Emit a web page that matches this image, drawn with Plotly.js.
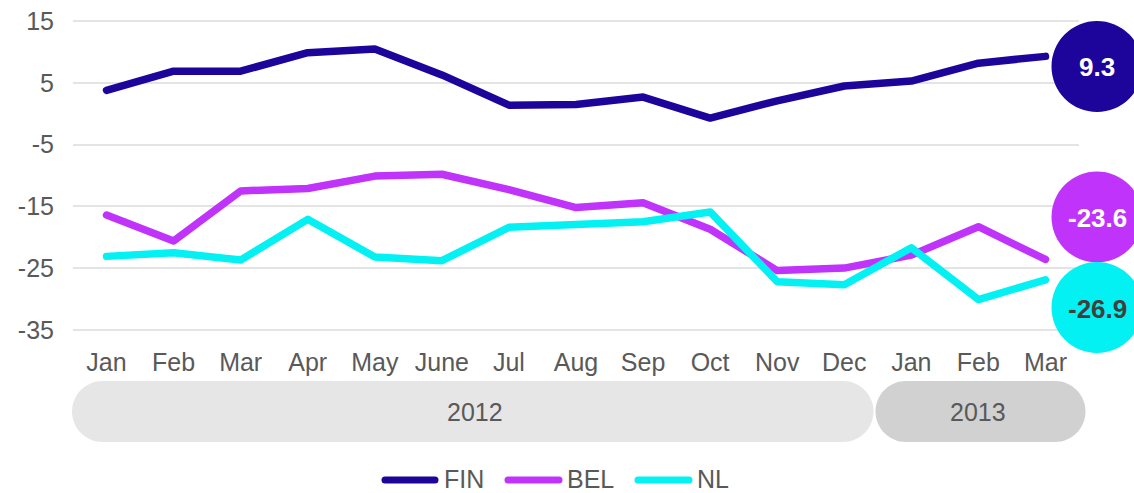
<!DOCTYPE html>
<html>
<head>
<meta charset="utf-8">
<script src="https://cdn.plot.ly/plotly-3.0.1.min.js"></script>
<style>
  html, body { margin: 0; padding: 0; background: #ffffff; }
  #chart { width: 1134px; height: 493px; }
  .scatterlayer .js-line { stroke-linecap: round; stroke-linejoin: round; }
</style>
</head>
<body>
<div id="chart"></div>
<script>
// ---- data ----
const months = ["Jan", "Feb", "Mar", "Apr", "May", "June", "Jul", "Aug", "Sep", "Oct", "Nov", "Dec", "Jan", "Feb", "Mar"];
const years = ["2012", "2013"];
const yearStartIdx = [0, 12];
const yearEndIdx = [11, 14];
const seriesNames = ["FIN", "BEL", "NL"];
const finValues = [3.8, 6.9, 6.9, 9.9, 10.5, 6.3, 1.4, 1.5, 2.7, -0.7, 2.1, 4.5, 5.3, 8.2, 9.3];
const belValues = [-16.4, -20.6, -12.5, -12.1, -10.1, -9.8, -12.3, -15.2, -14.4, -18.7, -25.4, -25.0, -22.9, -18.3, -23.6];
const nlValues = [-23.1, -22.5, -23.7, -17.1, -23.2, -23.8, -18.4, -18.0, -17.5, -15.9, -27.2, -27.7, -21.7, -30.1, -26.9];
const yTicks = [-35, -25, -15, -5, 5, 15];

// ---- styles / layout constants ----
const colors = ["#1d049b", "#bf33fb", "#03f1f2"];
const bubbleText = ["#ffffff", "#ffffff", "#3f3f3f"];
const textGrey = "#595959";
const FONT = "Liberation Sans, Arial, Helvetica, sans-serif";
const L = 73, R = 55, T = 15, B = 157, WIDTH = 1134, HEIGHT = 493;
const PW = WIDTH - L - R, PH = HEIGHT - T - B;
const px = X => (X - L) / PW;
const py = Y => (HEIGHT - B - Y) / PH;

const xIdx = months.map((m, i) => i);
const allSeries = [finValues, belValues, nlValues];

const traces = allSeries.map((vals, k) => ({
  type: "scatter",
  mode: "lines",
  x: xIdx,
  y: vals,
  name: seriesNames[k],
  line: { color: colors[k], width: 7.5 },
  showlegend: false,
  hoverinfo: "skip"
}));

// pill shaped band (in pixels -> paper)
function pill(x0, x1, y0, y1) {
  const r = (y1 - y0) / 2, k = 0.5523 * r, ym = (y0 + y1) / 2;
  const P = (X, Y) => px(X).toFixed(5) + "," + py(Y).toFixed(5);
  return "M" + P(x0 + r, y0) + " L" + P(x1 - r, y0) +
    " C" + P(x1 - r + k, y0) + " " + P(x1, ym - k) + " " + P(x1, ym) +
    " C" + P(x1, ym + k) + " " + P(x1 - r + k, y1) + " " + P(x1 - r, y1) +
    " L" + P(x0 + r, y1) +
    " C" + P(x0 + r - k, y1) + " " + P(x0, ym + k) + " " + P(x0, ym) +
    " C" + P(x0, ym - k) + " " + P(x0 + r - k, y0) + " " + P(x0 + r, y0) + " Z";
}

const shapes = [];
const annotations = [];

// year bands
const bandColors = ["#e6e6e6", "#d1d1d1"];
const bandEdges = [[72, 873.5], [875.5, 1085.5]];
years.forEach((yr, i) => {
  shapes.push({
    type: "path", xref: "paper", yref: "paper",
    path: pill(bandEdges[i][0], bandEdges[i][1], 381, 442),
    fillcolor: bandColors[i], line: { width: 0 }, layer: "above"
  });
  annotations.push({
    xref: "x", yref: "paper",
    x: (yearStartIdx[i] + yearEndIdx[i]) / 2, y: py(411.5),
    text: yr, showarrow: false, xanchor: "center", yanchor: "middle",
    font: { family: FONT, size: 25, color: textGrey }
  });
});

// end-value bubbles
const bubbleCenterY = [66.5, 217, 307.5];
const bubbleX = px(1097);
allSeries.forEach((vals, k) => {
  shapes.push({
    type: "circle", xref: "paper", yref: "paper",
    xsizemode: "pixel", ysizemode: "pixel",
    xanchor: bubbleX, yanchor: py(bubbleCenterY[k]),
    x0: -45.5, x1: 45.5, y0: -45.5, y1: 45.5,
    fillcolor: colors[k], line: { width: 0 }, layer: "above"
  });
  annotations.push({
    xref: "paper", yref: "paper", x: bubbleX, y: py(bubbleCenterY[k] + 1),
    text: "<b>" + vals[vals.length - 1].toFixed(1) + "</b>",
    showarrow: false, xanchor: "center", yanchor: "middle",
    font: { family: FONT, size: 26, color: bubbleText[k] }
  });
});

// custom legend
const legendSwatch = [[385, 435], [508, 559], [638, 689]];
const legendTextX = [442, 565, 695];
const legendY = 480;
seriesNames.forEach((nm, k) => {
  shapes.push({
    type: "line", xref: "paper", yref: "paper",
    x0: px(legendSwatch[k][0]), x1: px(legendSwatch[k][1]),
    y0: py(legendY), y1: py(legendY),
    line: { color: colors[k], width: 7 }, layer: "above"
  });
  annotations.push({
    xref: "paper", yref: "paper", x: px(legendTextX[k]), y: py(legendY - 1),
    text: nm, showarrow: false, xanchor: "left", yanchor: "middle",
    font: { family: FONT, size: 25, color: textGrey }
  });
});

const layout = {
  width: WIDTH, height: HEIGHT,
  margin: { l: L, r: R, t: T, b: B, pad: 0 },
  paper_bgcolor: "#ffffff", plot_bgcolor: "#ffffff",
  showlegend: false,
  hovermode: false,
  font: { family: FONT, color: textGrey },
  xaxis: {
    type: "linear",
    range: [-0.5, months.length - 0.5],
    tickmode: "array", tickvals: xIdx, ticktext: months,
    showgrid: false, zeroline: false, showline: false, ticks: "",
    tickfont: { family: FONT, size: 25, color: textGrey },
    ticklabelstandoff: 9,
    fixedrange: true
  },
  yaxis: {
    range: [-36, 16],
    tickmode: "array", tickvals: yTicks, ticktext: yTicks.map(String),
    showgrid: true, gridcolor: "#e4e4e4", gridwidth: 2,
    zeroline: false, showline: false, ticks: "",
    tickfont: { family: FONT, size: 25, color: textGrey },
    ticklabelstandoff: 18,
    fixedrange: true
  },
  shapes: shapes,
  annotations: annotations
};

Plotly.newPlot("chart", traces, layout, { displayModeBar: false, staticPlot: true }).then(() => {
  document.querySelectorAll(".shapelayer path").forEach(p => {
    p.style.strokeLinecap = "round";
  });
});
</script>
</body>
</html>
